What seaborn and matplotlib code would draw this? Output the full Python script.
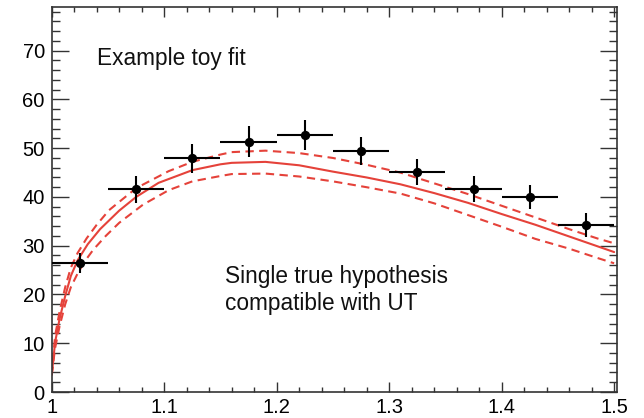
import numpy as np
import pandas as pd
import matplotlib
matplotlib.use("Agg")
import matplotlib.pyplot as plt
import seaborn as sns
from matplotlib.ticker import MultipleLocator

# ---- data ----
bin_centers = [1.025, 1.075, 1.125, 1.175, 1.225, 1.275, 1.325, 1.375, 1.425, 1.475]
counts      = [26.5, 41.6, 47.9, 51.3, 52.7, 49.4, 45.1, 41.7, 40.0, 34.2]
count_err   = [2.1, 2.8, 2.95, 3.2, 3.1, 2.8, 2.7, 2.65, 2.55, 2.5]
bin_half    = [0.025] * 10

fit_x     = [1.000, 1.003, 1.007, 1.012, 1.017, 1.023, 1.032, 1.043, 1.060, 1.075,
             1.095, 1.125, 1.150, 1.160, 1.190, 1.220, 1.250, 1.280, 1.310, 1.340,
             1.370, 1.400, 1.430, 1.460, 1.485, 1.500]
fit_mid   = [3.5, 10.2, 15.0, 19.7, 23.8, 27.0, 30.3, 33.4, 37.2, 40.0,
             42.9, 45.5, 46.7, 47.0, 47.2, 46.5, 45.2, 44.0, 42.6, 40.8,
             38.8, 36.5, 34.3, 31.9, 29.9, 28.7]
up_x      = [1.000, 1.003, 1.007, 1.012, 1.017, 1.023, 1.031, 1.040, 1.051, 1.075,
             1.104, 1.125, 1.150, 1.160, 1.190, 1.220, 1.250, 1.280, 1.310, 1.340,
             1.370, 1.400, 1.430, 1.460, 1.485, 1.500]
fit_up    = [3.5, 11.5, 16.5, 21.5, 25.5, 28.5, 31.5, 34.3, 37.3, 41.8,
             45.3, 47.2, 48.7, 49.2, 49.5, 49.0, 48.0, 46.6, 45.0, 42.8,
             40.6, 38.2, 35.8, 33.4, 31.5, 30.5]
lo_x      = [1.000, 1.003, 1.007, 1.012, 1.017, 1.023, 1.030, 1.037, 1.048, 1.060,
             1.081, 1.104, 1.125, 1.150, 1.160, 1.190, 1.220, 1.250, 1.280, 1.310,
             1.340, 1.370, 1.400, 1.430, 1.460, 1.485, 1.500]
fit_lo    = [3.5, 9.0, 13.5, 18.0, 21.5, 24.3, 27.0, 29.2, 32.0, 34.7,
             38.4, 41.4, 43.2, 44.3, 44.7, 44.8, 44.2, 43.2, 42.0, 40.7,
             38.7, 36.3, 33.9, 31.4, 29.4, 27.5, 26.4]

x_ticks = [1.0, 1.1, 1.2, 1.3, 1.4, 1.5]
x_tick_labels = ["1", "1.1", "1.2", "1.3", "1.4", "1.5"]
y_ticks = [0, 10, 20, 30, 40, 50, 60, 70]

label_top = "Example toy fit"
label_mid_1 = "Single true hypothesis"
label_mid_2 = "compatible with UT"

# ---- styling ----
sns.set_style("ticks")
plt.rcParams["font.family"] = ["Liberation Sans", "DejaVu Sans"]

RED = "#e5423a"
FRAME = "#333333"

fig = plt.figure(figsize=(6.44, 4.18), dpi=100)
ax = fig.add_axes([0.0803, 0.0622, 0.958 - 0.0803, 0.9825 - 0.0622])

df_mid = pd.DataFrame({"x": fit_x, "y": fit_mid})
df_up = pd.DataFrame({"x": up_x, "y": fit_up})
df_lo = pd.DataFrame({"x": lo_x, "y": fit_lo})

sns.lineplot(data=df_mid, x="x", y="y", ax=ax, color=RED, lw=1.5, sort=False)
sns.lineplot(data=df_up, x="x", y="y", ax=ax, color=RED, lw=1.5, sort=False,
             dashes=False).lines[-1].set_dashes((4, 2.6))
sns.lineplot(data=df_lo, x="x", y="y", ax=ax, color=RED, lw=1.5, sort=False,
             dashes=False).lines[-1].set_dashes((4, 2.6))

ax.errorbar(bin_centers, counts, xerr=bin_half, yerr=count_err, fmt="none",
            ecolor="black", elinewidth=1.5, capsize=0, zorder=5)
sns.scatterplot(x=bin_centers, y=counts, ax=ax, color="black", s=45,
                edgecolor="black", linewidth=0, zorder=6)

ax.set_xlim(1.0, 1.5025)
ax.set_ylim(0, 78.9)
ax.set_xlabel("")
ax.set_ylabel("")

ax.set_xticks(x_ticks)
ax.set_xticklabels(x_tick_labels)
ax.set_yticks(y_ticks)
ax.xaxis.set_minor_locator(MultipleLocator(0.02))
ax.yaxis.set_minor_locator(MultipleLocator(2))

for s in ax.spines.values():
    s.set_visible(True)
    s.set_color(FRAME)
    s.set_linewidth(1.2)

ax.tick_params(which="both", direction="in", top=True, right=True,
               color=FRAME, width=1.0, labelsize=14.5, labelcolor="black")
ax.xaxis.set_tick_params(which="major", length=7.2, pad=4)
ax.xaxis.set_tick_params(which="minor", length=3.6)
ax.yaxis.set_tick_params(which="major", length=12, pad=5)
ax.yaxis.set_tick_params(which="minor", length=6)

ax.text(1.040, 67.0, label_top, fontsize=16.3, color="#111111",
        ha="left", va="baseline")
ax.text(1.154, 22.4, label_mid_1, fontsize=16.3, color="#111111",
        ha="left", va="baseline")
ax.text(1.154, 16.8, label_mid_2, fontsize=16.3, color="#111111",
        ha="left", va="baseline")

fig.savefig("out.png", dpi=100)
